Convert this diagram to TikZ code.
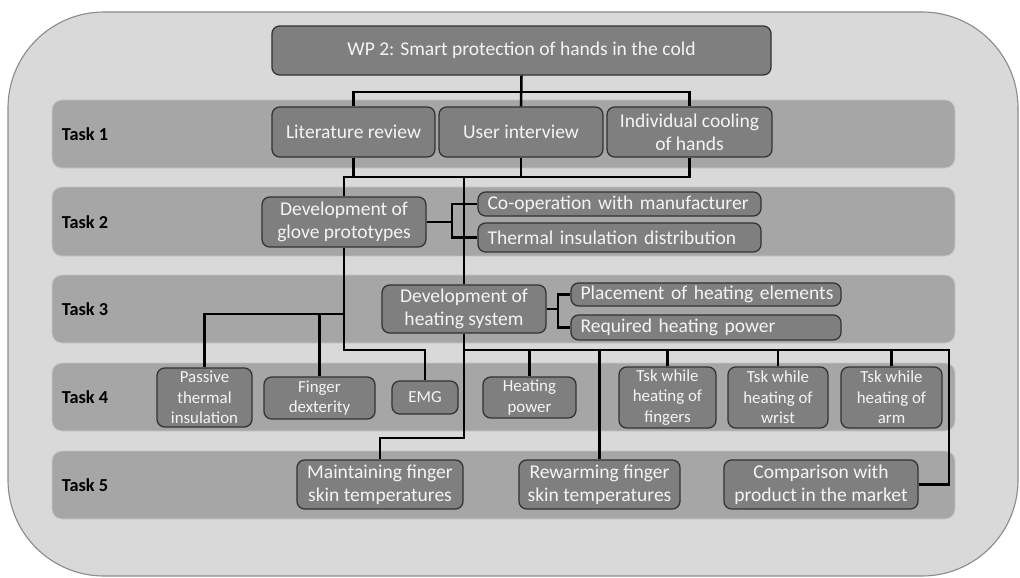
\documentclass[tikz,border=0pt]{standalone}
\usepackage{fontspec}
\setmainfont{Carlito}

\definecolor{framefill}{HTML}{D9D9D9}
\definecolor{framedraw}{HTML}{8C8C8C}
\definecolor{bandfill}{HTML}{A6A6A6}
\definecolor{bandline}{HTML}{BFC8D2}
\definecolor{boxfill}{HTML}{7F7F7F}
\definecolor{boxline}{HTML}{333333}
\definecolor{boxtext}{HTML}{F4F4F4}

\begin{document}
\begin{tikzpicture}[x=0.025cm, y=-0.025cm,
    box/.style={draw=boxline, line width=0.9pt, fill=boxfill, rounded corners=5.5pt, text=boxtext, align=center, inner sep=0pt, font=\fontsize{13.9}{16.4}\selectfont},
    smallbox/.style={box, font=\fontsize{12}{14.6}\selectfont},
    sidebox/.style={box, align=left, inner xsep=0.24cm},
    band/.style={fill=bandfill, draw=bandline, line width=0.6pt, rounded corners=7pt},
    tasklabel/.style={anchor=west, font=\bfseries\fontsize{13}{15}\selectfont},
    link/.style={line width=1.8pt}]

\useasboundingbox (0,0) rectangle (1020,578);
\draw[fill=framefill, draw=framedraw, line width=0.8pt, rounded corners=2.4cm] (8,12) rectangle (1018,576);

% task bands
\draw[band] (52,100) rectangle (955,168);
\draw[band] (52,187) rectangle (955,256);
\draw[band] (52,275) rectangle (955,343);
\draw[band] (52,363) rectangle (955,431);
\draw[band] (52,451) rectangle (955,519);

\node[tasklabel] (t1) at (57,134) {Task 1};
\node[tasklabel] (t2) at (57,222) {Task 2};
\node[tasklabel] (t3) at (57,309) {Task 3};
\node[tasklabel] (t4) at (57,397) {Task 4};
\node[tasklabel] (t5) at (57,485) {Task 5};

\node[box, minimum width=12.475cm, minimum height=1.225cm] (wp) at (521.5,50.5) {WP 2: Smart protection of hands in the cold};

\node[box, minimum width=4.075cm, minimum height=1.25cm] (lit) at (353.5,132) {Literature review};
\node[box, minimum width=4.1cm, minimum height=1.25cm] (user) at (521,132) {User interview};
\node[box, minimum width=4.125cm, minimum height=1.25cm] (indiv) at (689.5,132) {Individual cooling\\of hands};

\node[box, minimum width=4.1cm, minimum height=1.25cm] (glove) at (344,222) {Development of\\glove prototypes};
\node[sidebox, text width=6.595cm, minimum height=0.6cm] (coop) at (619.5,204) {\mbox{Co-operation with manufacturer}};
\node[sidebox, text width=6.595cm, minimum height=0.725cm] (thermal) at (619.5,237.5) {\mbox{Thermal insulation distribution}};

\node[box, minimum width=4.1cm, minimum height=1.2cm] (heat) at (464,309) {Development of\\heating system};
\node[sidebox, text width=6.27cm, minimum height=0.575cm] (place) at (706,294.5) {\mbox{Placement of heating elements}};
\node[sidebox, text width=6.27cm, minimum height=0.625cm] (req) at (706,327.5) {\mbox{Required heating power}};

\node[smallbox, minimum width=2.375cm, minimum height=1.475cm] (passive) at (204.5,397.5) {Passive\\thermal\\insulation};
\node[smallbox, minimum width=2.775cm, minimum height=1.05cm] (finger) at (319.5,398) {Finger\\dexterity};
\node[smallbox, minimum width=1.65cm, minimum height=0.825cm] (emg) at (425,397.5) {EMG};
\node[smallbox, minimum width=2.325cm, minimum height=1.025cm] (hpower) at (529.5,397.5) {Heating\\power};
\node[smallbox, minimum width=2.425cm, minimum height=1.525cm] (tskf) at (667.5,397.5) {Tsk while\\heating of\\fingers};
\node[smallbox, minimum width=2.5cm, minimum height=1.525cm] (tskw) at (778,397.5) {Tsk while\\heating of\\wrist};
\node[smallbox, minimum width=2.525cm, minimum height=1.525cm] (tska) at (891.5,397.5) {Tsk while\\heating of\\arm};

\node[box, minimum width=4.15cm, minimum height=1.225cm] (maint) at (380,484.5) {Maintaining finger\\skin temperatures};
\node[box, minimum width=4.025cm, minimum height=1.225cm] (rew) at (599.5,484.5) {Rewarming finger\\skin temperatures};
\node[box, minimum width=4.85cm, minimum height=1.225cm] (comp) at (821,484.5) {Comparison with\\product in the market};

% connectors
\draw[link] (wp.south) -- (user.north);
\draw[link] (lit.north) -- (lit.north |- 0,92) -| (indiv.north);

\draw[link] (glove.north) |- (indiv.south |- 0,177) -- (indiv.south);
\draw[link] (lit.south) -- (lit.south |- 0,177);
\draw[link] (user.south) -- (user.south |- 0,177);
\draw[link] (heat.north) -- (heat.north |- 0,177);

\coordinate (j2) at (452,222);
\draw[link] (glove.east) -- (j2);
\draw[link] (coop.west) -| (j2) |- (thermal.west);

\coordinate (j3) at (558,309);
\draw[link] (heat.east) -- (j3);
\draw[link] (place.west) -| (j3) |- (req.west);

\draw[link] (glove.south) -- (glove.south |- 0,350) -| (emg.north);
\draw[link] (passive.north) |- (glove.south |- 0,314);
\draw[link] (finger.north) -- (finger.north |- 0,314);

\coordinate (corner) at (949,350);
\draw[link] (heat.south) -- (heat.south |- 0,438) -| (maint.north);
\draw[link] (heat.south |- corner) -- (corner) |- (comp.east);
\foreach \n in {hpower,rew,tskf,tskw,tska}
    \draw[link] (\n.north) -- (\n.north |- corner);

\end{tikzpicture}
\end{document}
